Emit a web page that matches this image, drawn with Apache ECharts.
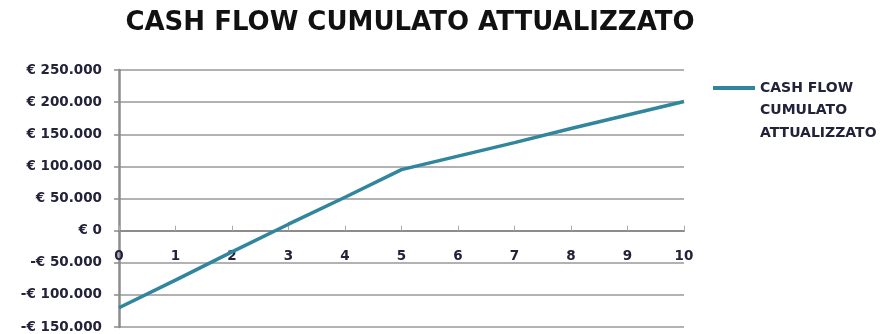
<!DOCTYPE html>
<html>
<head>
<meta charset="utf-8">
<script src="https://cdn.jsdelivr.net/npm/echarts@6/dist/echarts.min.js"></script>
<style>
  html, body { margin: 0; padding: 0; background: #fff; }
  #chart { width: 881px; height: 334px; }
</style>
</head>
<body>
<div id="chart"></div>
<script>
const years = [0, 1, 2, 3, 4, 5, 6, 7, 8, 9, 10];
const cashFlow = [-120000, -77000, -33000, 10000, 52000, 95000, 116000, 137000, 159000, 180000, 201000];
const seriesName = "CASH FLOW CUMULATO ATTUALIZZATO";

const yMin = -150000;
const yMax = 250000;

// 250000 -> "250.000"
const fmt = (n) => String(n).replace(/\B(?=(\d{3})+(?!\d))/g, ".");

const gridTop = 70;
const gridHeight = 257;
// sposta l'asse x sulla riga dello zero
const zeroOffset = -gridHeight * (-yMin) / (yMax - yMin);

const labelFont = "DejaVu Sans";

const myChart = echarts.init(document.getElementById("chart"));
myChart.setOption({
  animation: false,
  title: {
    text: seriesName,
    left: 405,
    textAlign: "center",
    top: 5,
    textStyle: {
      fontFamily: labelFont,
      fontSize: 26,
      fontWeight: "bold",
      color: "#111",
    },
  },
  legend: {
    left: 713,
    top: 77,
    padding: 0,
    itemWidth: 42,
    itemHeight: 4,
    icon: "rect",
    formatter: () => "CASH FLOW",
    textStyle: {
      fontFamily: labelFont,
      fontSize: 14,
      fontWeight: "bold",
      color: "#222238",
      lineHeight: 22,
    },
    data: [seriesName],
  },
  graphic: [
    {
      type: "text",
      left: 760,
      top: 99,
      style: {
        text: "CUMULATO\nATTUALIZZATO",
        font: "bold 14px 'DejaVu Sans'",
        lineHeight: 23,
        fill: "#222238",
      },
    },
  ],
  grid: {
    left: 119,
    top: gridTop,
    width: 565,
    height: gridHeight,
    outerBoundsMode: "none",
  },
  xAxis: {
    type: "value",
    min: 0,
    max: 10,
    interval: 1,
    offset: zeroOffset,
    axisLine: { onZero: false, lineStyle: { color: "#8c8c8c", width: 2 } },
    axisTick: { inside: true, length: 5, lineStyle: { color: "#aaa" } },
    axisLabel: {
      margin: 19,
      fontFamily: labelFont,
      fontSize: 13.5,
      fontWeight: "bold",
      color: "#222238",
    },
    splitLine: { show: false },
  },
  yAxis: {
    type: "value",
    min: yMin,
    max: yMax,
    interval: 50000,
    axisLine: { show: true, lineStyle: { color: "#8c8c8c", width: 2.5 } },
    axisTick: { show: true, length: 5, lineStyle: { color: "#8c8c8c", width: 1.5 } },
    axisLabel: {
      margin: 17,
      fontFamily: labelFont,
      fontSize: 13.5,
      fontWeight: "bold",
      color: "#222238",
      formatter: (v) => (v < 0 ? "-€ " + fmt(-v) : "€ " + fmt(v)),
    },
    splitLine: { lineStyle: { color: "#999", width: 1.5 } },
  },
  series: [
    {
      name: seriesName,
      type: "line",
      data: years.map((y, i) => [y, cashFlow[i]]),
      showSymbol: false,
      lineStyle: { color: "#31859c", width: 3.5 },
      itemStyle: { color: "#31859c" },
    },
  ],
});
</script>
</body>
</html>
